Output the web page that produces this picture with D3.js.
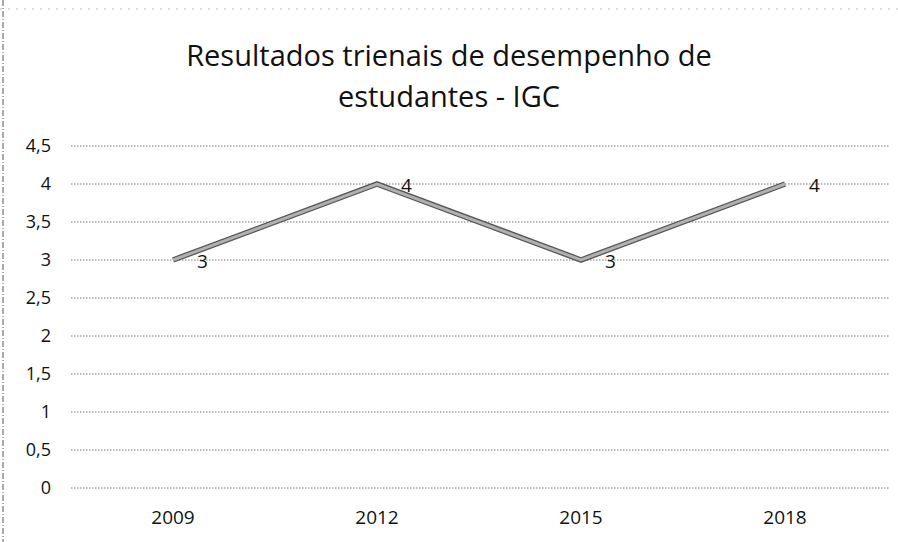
<!DOCTYPE html>
<html><head><meta charset="utf-8">
<script src="https://cdn.jsdelivr.net/npm/d3@7"></script>
<style>body{margin:0;background:#fff}svg{display:block}</style>
</head><body>
<script>
const categories = ["2009", "2012", "2015", "2018"];
const values = [3, 4, 3, 4];
const yTicks = [0, 0.5, 1, 1.5, 2, 2.5, 3, 3.5, 4, 4.5];
const titleLines = ["Resultados trienais de desempenho de", "estudantes - IGC"];

const W = 898, H = 542;
const svg = d3.select("body").append("svg").attr("width", W).attr("height", H);
const font = "'Open Sans', 'Noto Sans', sans-serif";

// frame (scan border)
svg.append("line").attr("x1", 3).attr("x2", 3).attr("y1", 0).attr("y2", H)
  .attr("stroke", "#555").attr("stroke-width", 1).attr("stroke-dasharray", "6,2,1,2");
svg.append("line").attr("x1", 0).attr("x2", W).attr("y1", 9).attr("y2", 9)
  .attr("stroke", "#bbb").attr("stroke-width", 1).attr("stroke-dasharray", "2,6");

const x = d3.scaleBand().domain(categories).range([71, 887]);
const y = d3.scaleLinear().domain([0, 4.5]).range([488, 146]);

// title
svg.append("text").attr("text-anchor", "middle")
  .attr("font-family", font).attr("font-size", 29).attr("fill", "#111")
  .selectAll("tspan").data(titleLines).join("tspan")
  .attr("x", 449).attr("y", (d, i) => 66 + i * 41).text(d => d);

// grid
svg.append("g").selectAll("line").data(yTicks).join("line")
  .attr("x1", 71).attr("x2", 889)
  .attr("y1", d => y(d)).attr("y2", d => y(d))
  .attr("stroke", "#777").attr("stroke-width", 1).attr("stroke-dasharray", "1.5,1.5");

// y axis
const yAxis = d3.axisLeft(y).tickValues(yTicks).tickSize(0).tickPadding(0)
  .tickFormat(d => String(d).replace(".", ","));
const gy = svg.append("g").attr("transform", "translate(51,0)").call(yAxis);
gy.select(".domain").remove();
gy.selectAll("text").attr("font-family", font).attr("font-size", 18).attr("fill", "#111");

// x axis
const xAxis = d3.axisBottom(x).tickSize(0).tickPadding(0);
const gx = svg.append("g").attr("transform", "translate(0,510)").call(xAxis);
gx.select(".domain").remove();
gx.selectAll("text").attr("font-family", font).attr("font-size", 19).attr("fill", "#111");

// line
const line = d3.line().x((d, i) => x(categories[i]) + x.bandwidth() / 2).y(d => y(d));
svg.append("path").datum(values).attr("d", line)
  .attr("fill", "none").attr("stroke", "#555").attr("stroke-width", 5.5).attr("stroke-linejoin", "miter");
svg.append("path").datum(values).attr("d", line)
  .attr("fill", "none").attr("stroke", "#b0b0b0").attr("stroke-width", 3).attr("stroke-linejoin", "miter");

// data labels (right of point)
svg.append("g").selectAll("text").data(values).join("text")
  .attr("x", (d, i) => x(categories[i]) + x.bandwidth() / 2 + 24)
  .attr("y", d => y(d) + 8)
  .attr("font-family", font).attr("font-size", 19).attr("fill", "#111")
  .text(d => d);
</script>
</body></html>
